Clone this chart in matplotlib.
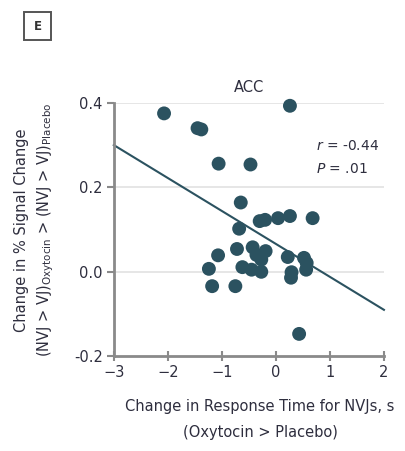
import matplotlib
matplotlib.use("Agg")
import matplotlib.pyplot as plt
from matplotlib.patches import Rectangle

# response time change (s) vs % signal change, ACC
rt_change = [-2.07, -1.45, -1.38, 0.26, -1.06, -0.47, -0.65, -0.68, -0.30, -0.20,
             0.04, 0.26, 0.68, -1.07, -0.72, -0.43, -0.36, -0.19, -0.27, -0.62,
             -0.45, -0.27, -1.24, -1.18, -0.75, 0.22, 0.29, 0.28, 0.52, 0.56,
             0.57, 0.43]
signal_change = [0.375, 0.340, 0.337, 0.393, 0.256, 0.254, 0.164, 0.102, 0.120, 0.123,
                 0.127, 0.132, 0.127, 0.039, 0.054, 0.058, 0.040, 0.049, 0.029, 0.011,
                 0.005, 0.000, 0.007, -0.034, -0.034, 0.035, -0.001, -0.014, 0.033, 0.005,
                 0.021, -0.147]
fit_x = [-3, 2]
fit_y = [0.30, -0.09]

xticks = [-3, -2, -1, 0, 1, 2]
yticks = [-0.2, 0.0, 0.2, 0.4]
ytick_labels = ["-0.2", "0.0", "0.2", "0.4"]

dot_color = "#2b5260"
text_color = "#2e2e3e"
axis_color = "#8a8a8a"

plt.rcParams["font.family"] = ["DejaVu Sans"]

fig = plt.figure(figsize=(4.05, 4.51), dpi=100)
ax = fig.add_axes([0.281, 0.21, 0.667, 0.562])

for y in [0.0, 0.2, 0.4]:
    ax.axhline(y, color="#e2e2e2", lw=1.2, zorder=0)

ax.plot(fit_x, fit_y, color=dot_color, lw=1.5, zorder=2, clip_on=False)
ax.scatter(rt_change, signal_change, s=100, color=dot_color, edgecolors="none",
           zorder=3, clip_on=False)

ax.set_xlim(-3, 2)
ax.set_ylim(-0.2, 0.4)
ax.set_xticks(xticks)
ax.set_yticks(yticks)
ax.set_yticklabels(ytick_labels)

for s in ["top", "right"]:
    ax.spines[s].set_visible(False)
for s in ["left", "bottom"]:
    ax.spines[s].set_color(axis_color)
    ax.spines[s].set_linewidth(2)

ax.tick_params(axis="x", direction="inout", length=7, width=1.5, color=axis_color,
               labelsize=10.5, labelcolor=text_color, pad=3)
ax.tick_params(axis="y", direction="out", length=5, width=1.5, color=axis_color,
               labelsize=10.5, labelcolor=text_color, pad=3)

ax.set_title("ACC", fontsize=10.5, color=text_color, pad=8)

ax.text(0.75, 0.83, r"$\it{r}$ = -0.44", transform=ax.transAxes, fontsize=10,
        color=text_color, ha="left", va="center")
ax.text(0.75, 0.74, r"$\it{P}$ = .01", transform=ax.transAxes, fontsize=10,
        color=text_color, ha="left", va="center")

fig.text(260 / 405, 1 - 407 / 451, "Change in Response Time for NVJs, s",
         ha="center", va="center", fontsize=10.5, color=text_color)
fig.text(260 / 405, 1 - 432 / 451, "(Oxytocin > Placebo)",
         ha="center", va="center", fontsize=10.5, color=text_color)

fig.text(22 / 405, 1 - 230 / 451, "Change in % Signal Change", rotation=90,
         ha="center", va="center", fontsize=10.5, color=text_color)
fig.text(46 / 405, 1 - 230 / 451,
         r"(NVJ > VJ)$_{\mathregular{Oxytocin}}$ > (NVJ > VJ)$_{\mathregular{Placebo}}$",
         rotation=90, ha="center", va="center", fontsize=10.5, color=text_color)

# panel letter box
fig.add_artist(Rectangle((24 / 405, 1 - 40 / 451), 27 / 405, 28 / 451,
                         transform=fig.transFigure, fill=False, ec="#555555", lw=1.4))
fig.text(37.5 / 405, 1 - 26 / 451, "E", ha="center", va="center", fontsize=8.5,
         fontweight="bold", color="#333333")

fig.savefig("out.png", dpi=100)
